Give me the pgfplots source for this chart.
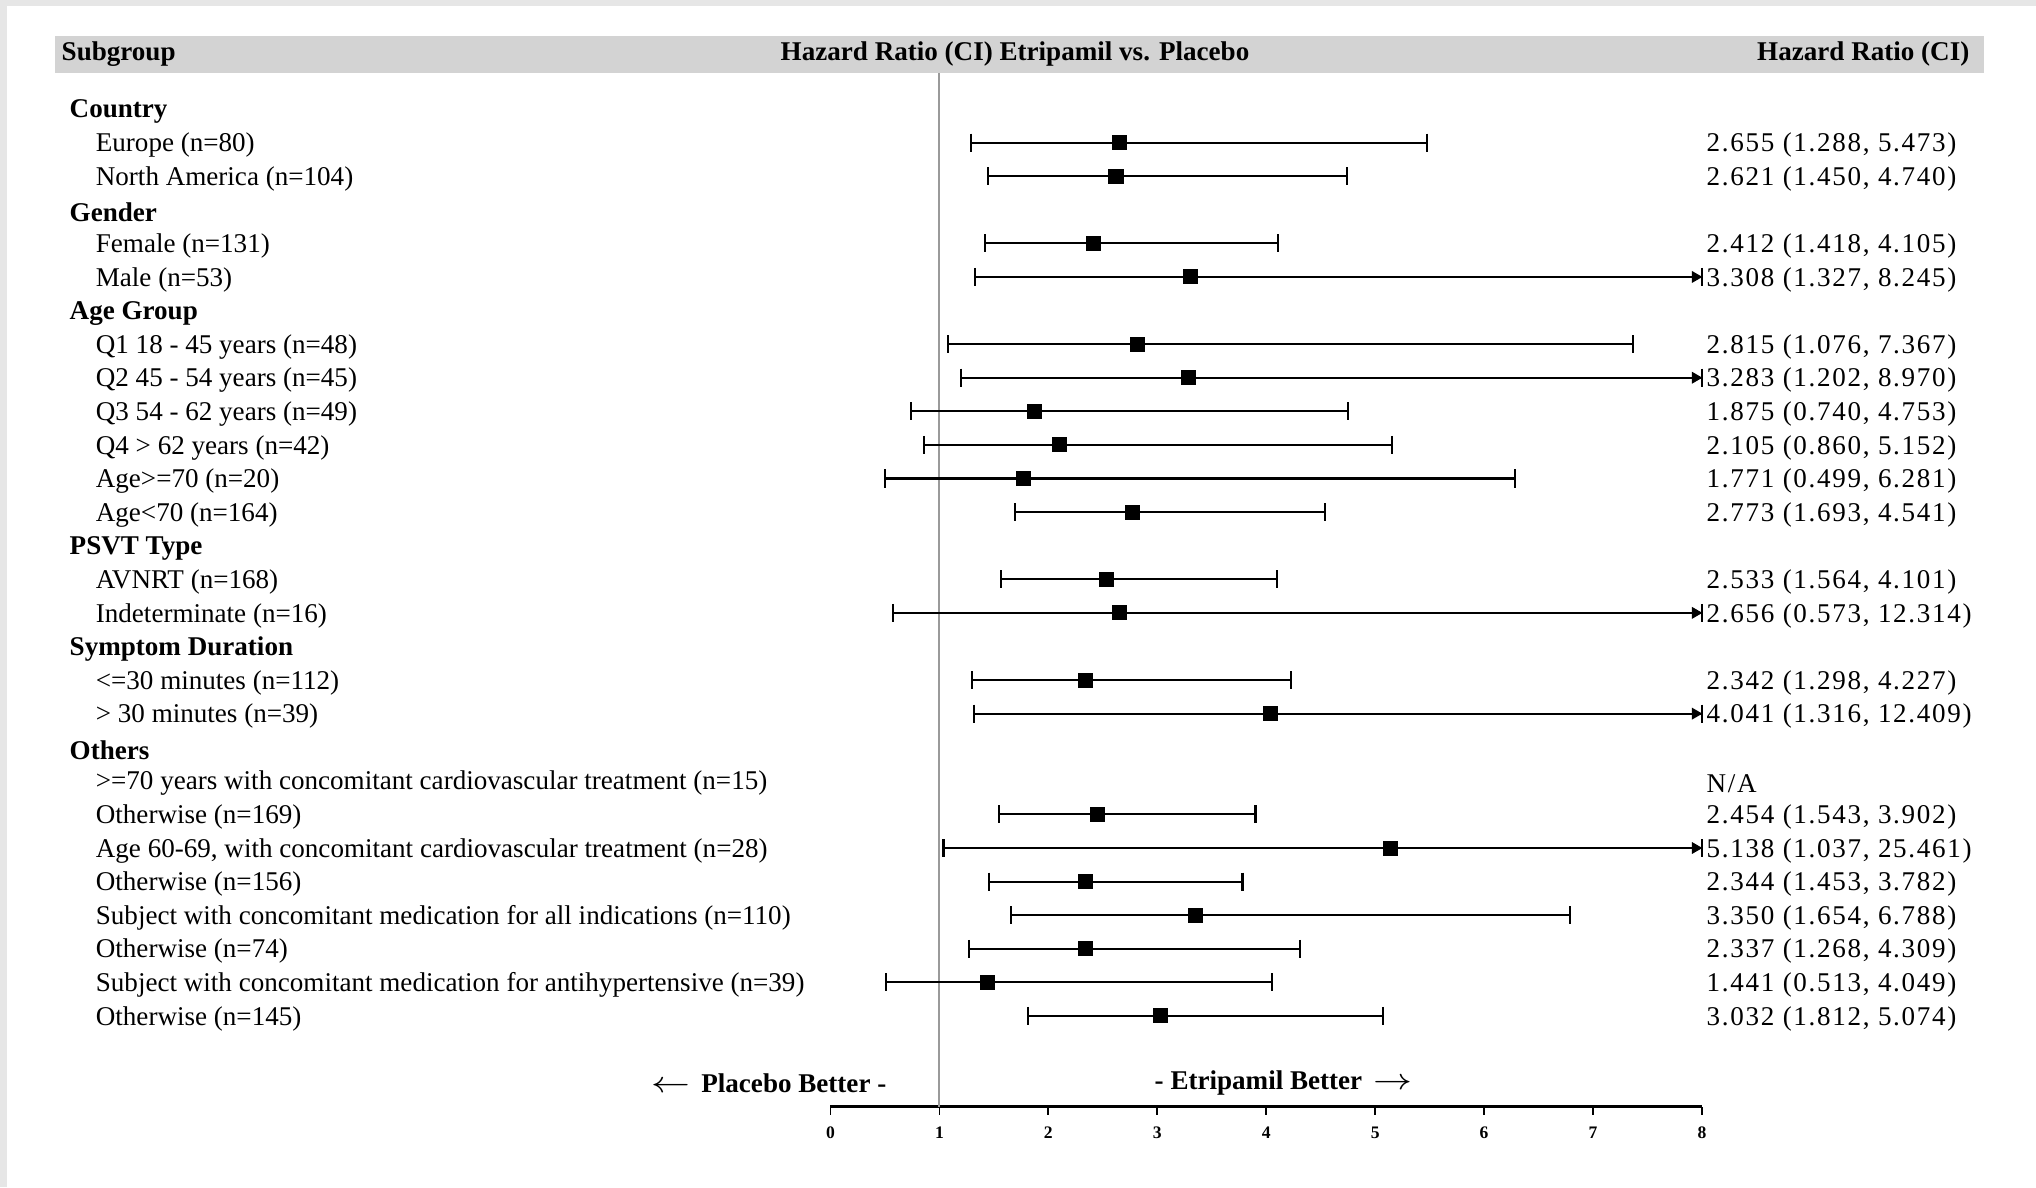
\documentclass[border=0pt]{standalone}
\usepackage{fontspec}
\setmainfont{Liberation Serif}
\newfontfamily\rfont[LetterSpace=6.2]{Liberation Serif}
\usepackage{graphicx}
\usepackage{pgfplots}
\pgfplotsset{compat=1.18}
\definecolor{bgout}{HTML}{E6E6E6}
\definecolor{hdr}{HTML}{D3D3D3}
\definecolor{refl}{HTML}{9A9A9A}
\newcommand{\fs}{\fontsize{7.7}{9}\selectfont}
\tikzset{
  lab/.style={anchor=west, inner sep=0pt, font=\fs, yshift=-0.75pt},
  rlab/.style={anchor=west, inner sep=0pt, font=\fs\rfont, yshift=-0.75pt},
  hd/.style={anchor=west, inner sep=0pt, font=\fs\bfseries, yshift=-0.75pt},
}
\begin{document}
\begin{tikzpicture}
\begin{scope}[x=0.01cm,y=-0.01cm]
\useasboundingbox (0,0) rectangle (2036,1187);
\fill[bgout] (0,0) rectangle (2036,1187);
\fill[white] (7,6) rectangle (2036,1187);
\fill[hdr] (55,36) rectangle (1984,73);
\node[anchor=west, inner sep=0pt, font=\fs\bfseries] at (61,54) {Subgroup};
\node[inner sep=0pt, font=\fs\bfseries] at (1015,54) {Hazard Ratio (CI) Etripamil vs. Placebo};
\node[anchor=east, inner sep=0pt, font=\fs\bfseries] at (1970,54) {Hazard Ratio (CI)};
\node[anchor=east, inner sep=0pt, font=\fs\bfseries] at (887,1083) {\scalebox{1.3}[1.05]{$\leftarrow$}\, Placebo Better -};
\node[anchor=west, inner sep=0pt, font=\fs\bfseries] at (1154,1083) {- Etripamil Better \,\scalebox{1.3}[1.05]{$\rightarrow$}};
\end{scope}
\begin{axis}[
  at={(8.30cm,-11.06cm)}, anchor=south west,
  scale only axis, width=8.71cm, height=10.33cm,
  xmin=0, xmax=8, ymin=-29.7, ymax=1.07,
  axis x line*=bottom, axis y line=none,
  xtick={0,1,2,3,4,5,6,7,8}, ytick=\empty,
  xtick align=outside, major tick length=0.08cm,
  x axis line style={line width=0.7pt},
  xtick style={line width=0.5pt, black},
  xticklabel style={font=\fontsize{5}{6}\selectfont\bfseries, yshift=0pt},
  /pgf/number format/assume math mode=true,
  clip=false,
]
\addplot[refl, line width=0.6pt, forget plot] coordinates {(1,1.07) (1,-29.7)};
% confidence intervals (upper limits beyond 8 drawn to 8)
\addplot[black, line width=0.6pt, mark=|, mark size=0.09cm, unbounded coords=jump] coordinates {
(1.288,-1) (5.473,-1) (nan,nan)
(1.450,-2) (4.740,-2) (nan,nan)
(1.418,-4) (4.105,-4) (nan,nan)
(1.327,-5) (8,-5) (nan,nan)
(1.076,-7) (7.367,-7) (nan,nan)
(1.202,-8) (8,-8) (nan,nan)
(0.740,-9) (4.753,-9) (nan,nan)
(0.860,-10) (5.152,-10) (nan,nan)
(0.499,-11) (6.281,-11) (nan,nan)
(1.693,-12) (4.541,-12) (nan,nan)
(1.564,-14) (4.101,-14) (nan,nan)
(0.573,-15) (8,-15) (nan,nan)
(1.298,-17) (4.227,-17) (nan,nan)
(1.316,-18) (8,-18) (nan,nan)
(1.543,-21) (3.902,-21) (nan,nan)
(1.037,-22) (8,-22) (nan,nan)
(1.453,-23) (3.782,-23) (nan,nan)
(1.654,-24) (6.788,-24) (nan,nan)
(1.268,-25) (4.309,-25) (nan,nan)
(0.513,-26) (4.049,-26) (nan,nan)
(1.812,-27) (5.074,-27)
};
% point estimates
\addplot[only marks, mark=square*, mark size=0.068cm, black] coordinates {
(2.655,-1) (2.621,-2) (2.412,-4) (3.308,-5) (2.815,-7) (3.283,-8)
(1.875,-9) (2.105,-10) (1.771,-11) (2.773,-12) (2.533,-14) (2.656,-15)
(2.342,-17) (4.041,-18) (2.454,-21) (5.138,-22) (2.344,-23) (3.350,-24)
(2.337,-25) (1.441,-26) (3.032,-27)
};
% arrowheads for truncated intervals
\addplot[only marks, mark=triangle*, mark size=0.055cm, mark options={rotate=-90}, black] coordinates {
(7.94,-5) (7.94,-8) (7.94,-15) (7.94,-18) (7.94,-22)
};
% left labels
\node[hd] at (axis cs:-6.99,0) {Country};
\node[lab] at (axis cs:-6.75,-1) {Europe (n=80)};
\node[lab] at (axis cs:-6.75,-2) {North America (n=104)};
\node[hd] at (axis cs:-6.99,-3) {Gender};
\node[lab] at (axis cs:-6.75,-4) {Female (n=131)};
\node[lab] at (axis cs:-6.75,-5) {Male (n=53)};
\node[hd] at (axis cs:-6.99,-6) {Age Group};
\node[lab] at (axis cs:-6.75,-7) {Q1 18 - 45 years (n=48)};
\node[lab] at (axis cs:-6.75,-8) {Q2 45 - 54 years (n=45)};
\node[lab] at (axis cs:-6.75,-9) {Q3 54 - 62 years (n=49)};
\node[lab] at (axis cs:-6.75,-10) {Q4 > 62 years (n=42)};
\node[lab] at (axis cs:-6.75,-11) {Age>=70 (n=20)};
\node[lab] at (axis cs:-6.75,-12) {Age<70 (n=164)};
\node[hd] at (axis cs:-6.99,-13) {PSVT Type};
\node[lab] at (axis cs:-6.75,-14) {AVNRT (n=168)};
\node[lab] at (axis cs:-6.75,-15) {Indeterminate (n=16)};
\node[hd] at (axis cs:-6.99,-16) {Symptom Duration};
\node[lab] at (axis cs:-6.75,-17) {<=30 minutes (n=112)};
\node[lab] at (axis cs:-6.75,-18) {> 30 minutes (n=39)};
\node[hd] at (axis cs:-6.99,-19) {Others};
\node[lab] at (axis cs:-6.75,-20) {>=70 years with concomitant cardiovascular treatment (n=15)};
\node[lab] at (axis cs:-6.75,-21) {Otherwise (n=169)};
\node[lab] at (axis cs:-6.75,-22) {Age 60-69, with concomitant cardiovascular treatment (n=28)};
\node[lab] at (axis cs:-6.75,-23) {Otherwise (n=156)};
\node[lab] at (axis cs:-6.75,-24) {Subject with concomitant medication for all indications (n=110)};
\node[lab] at (axis cs:-6.75,-25) {Otherwise (n=74)};
\node[lab] at (axis cs:-6.75,-26) {Subject with concomitant medication for antihypertensive (n=39)};
\node[lab] at (axis cs:-6.75,-27) {Otherwise (n=145)};
% right labels
\node[rlab] at (axis cs:8.037,-1) {2.655 (1.288, 5.473)};
\node[rlab] at (axis cs:8.037,-2) {2.621 (1.450, 4.740)};
\node[rlab] at (axis cs:8.037,-4) {2.412 (1.418, 4.105)};
\node[rlab] at (axis cs:8.037,-5) {3.308 (1.327, 8.245)};
\node[rlab] at (axis cs:8.037,-7) {2.815 (1.076, 7.367)};
\node[rlab] at (axis cs:8.037,-8) {3.283 (1.202, 8.970)};
\node[rlab] at (axis cs:8.037,-9) {1.875 (0.740, 4.753)};
\node[rlab] at (axis cs:8.037,-10) {2.105 (0.860, 5.152)};
\node[rlab] at (axis cs:8.037,-11) {1.771 (0.499, 6.281)};
\node[rlab] at (axis cs:8.037,-12) {2.773 (1.693, 4.541)};
\node[rlab] at (axis cs:8.037,-14) {2.533 (1.564, 4.101)};
\node[rlab] at (axis cs:8.037,-15) {2.656 (0.573, 12.314)};
\node[rlab] at (axis cs:8.037,-17) {2.342 (1.298, 4.227)};
\node[rlab] at (axis cs:8.037,-18) {4.041 (1.316, 12.409)};
\node[rlab] at (axis cs:8.037,-20) {N/A};
\node[rlab] at (axis cs:8.037,-21) {2.454 (1.543, 3.902)};
\node[rlab] at (axis cs:8.037,-22) {5.138 (1.037, 25.461)};
\node[rlab] at (axis cs:8.037,-23) {2.344 (1.453, 3.782)};
\node[rlab] at (axis cs:8.037,-24) {3.350 (1.654, 6.788)};
\node[rlab] at (axis cs:8.037,-25) {2.337 (1.268, 4.309)};
\node[rlab] at (axis cs:8.037,-26) {1.441 (0.513, 4.049)};
\node[rlab] at (axis cs:8.037,-27) {3.032 (1.812, 5.074)};
\end{axis}
\end{tikzpicture}
\end{document}
